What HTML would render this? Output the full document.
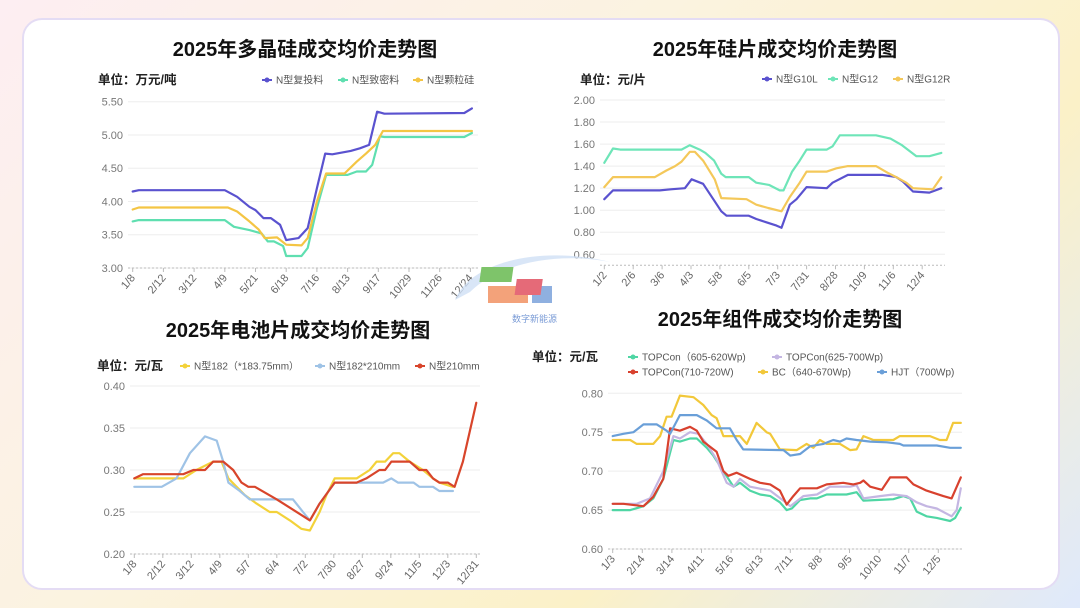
<!DOCTYPE html>
<html><head><meta charset="utf-8">
<style>
html,body{margin:0;padding:0;}
body{width:1080px;height:608px;overflow:hidden;position:relative;font-family:"Liberation Sans","Noto Sans CJK SC",sans-serif;
background:linear-gradient(135deg,#fdeef2 0%,#fbf3e0 40%,#fbf1c8 70%,#dfe9fb 100%);}
#card{position:absolute;left:22px;top:18px;width:1034px;height:568px;background:#fff;border:2px solid #e4dcf4;border-radius:20px;}
svg{position:absolute;left:0;top:0;}
</style></head><body>
<div id="card"></div>
<svg id="svg" width="1080" height="608"></svg>
<script>
// ---------- Chart 1: polysilicon ----------
const c1Ticks = ["1/8","2/12","3/12","4/9","5/21","6/18","7/16","8/13","9/17","10/29","11/26","12/24"];
const c1YTicks = [3.00,3.50,4.00,4.50,5.00,5.50];
const c1Names = ["N型复投料","N型致密料","N型颗粒硅"];
const c1Purple = [[0,4.15],[0.2,4.17],[3.0,4.17],[3.4,4.07],[3.8,3.92],[4.0,3.87],[4.26,3.75],[4.5,3.75],[4.8,3.65],[5.0,3.42],[5.4,3.45],[5.7,3.6],[6.0,4.2],[6.27,4.72],[6.5,4.71],[7.1,4.76],[7.4,4.8],[7.7,4.85],[7.96,5.35],[8.2,5.32],[10.8,5.33],[11.05,5.4]];
const c1Green = [[0,3.70],[0.2,3.72],[3.0,3.72],[3.3,3.62],[3.8,3.57],[4.2,3.52],[4.4,3.40],[4.6,3.40],[4.9,3.33],[5.0,3.18],[5.5,3.18],[5.7,3.3],[6.0,3.9],[6.3,4.40],[7.0,4.40],[7.3,4.45],[7.6,4.45],[7.8,4.55],[8.05,4.98],[8.2,4.97],[10.8,4.97],[11.05,5.03]];
const c1Yellow = [[0,3.88],[0.2,3.91],[3.1,3.91],[3.4,3.85],[3.8,3.70],[4.1,3.58],[4.3,3.45],[4.7,3.46],[5.0,3.35],[5.5,3.34],[5.7,3.45],[6.0,4.0],[6.3,4.42],[6.9,4.42],[7.3,4.60],[7.6,4.72],[7.9,4.85],[8.15,5.06],[11.05,5.06]];

// ---------- Chart 2: wafer ----------
const c2Ticks = ["1/2","2/6","3/6","4/3","5/8","6/5","7/3","7/31","8/28","10/9","11/6","12/4"];
const c2YTicks = [0.60,0.80,1.00,1.20,1.40,1.60,1.80,2.00];
const c2Names = ["N型G10L","N型G12","N型G12R"];
const c2Purple = [[0,1.10],[0.3,1.18],[1.92,1.18],[2.3,1.19],[2.79,1.20],[3.02,1.28],[3.42,1.24],[3.77,1.10],[4.05,0.99],[4.23,0.95],[5.0,0.95],[5.26,0.92],[5.61,0.89],[5.96,0.86],[6.13,0.84],[6.42,1.05],[6.65,1.10],[7.0,1.21],[7.7,1.20],[7.9,1.25],[8.43,1.32],[9.64,1.32],[10.1,1.30],[10.33,1.26],[10.68,1.17],[11.25,1.16],[11.66,1.20]];
const c2Green = [[0,1.43],[0.3,1.56],[0.55,1.55],[2.67,1.55],[2.96,1.59],[3.3,1.55],[3.5,1.52],[3.8,1.45],[4.05,1.33],[4.2,1.30],[5.0,1.30],[5.26,1.25],[5.7,1.23],[6.07,1.18],[6.2,1.18],[6.5,1.35],[6.76,1.45],[7.0,1.55],[7.7,1.55],[7.9,1.58],[8.15,1.68],[9.4,1.68],[9.9,1.65],[10.3,1.59],[10.8,1.49],[11.25,1.49],[11.66,1.52]];
const c2Yellow = [[0,1.21],[0.3,1.30],[1.75,1.30],[2.15,1.36],[2.45,1.40],[2.67,1.44],[2.96,1.53],[3.13,1.53],[3.42,1.45],[3.82,1.28],[4.05,1.11],[4.92,1.10],[5.26,1.05],[5.67,1.02],[6.13,0.99],[6.42,1.12],[6.76,1.25],[7.0,1.35],[7.7,1.35],[8.03,1.38],[8.43,1.40],[9.4,1.40],[9.8,1.34],[10.1,1.30],[10.45,1.25],[10.68,1.20],[11.37,1.19],[11.66,1.30]];

// ---------- Chart 3: cells ----------
const c3Ticks = ["1/8","2/12","3/12","4/9","5/7","6/4","7/2","7/30","8/27","9/24","11/5","12/3","12/31"];
const c3YTicks = [0.20,0.25,0.30,0.35,0.40];
const c3Names = ["N型182（*183.75mm）","N型182*210mm","N型210mm"];
const c3Yellow = [[0,0.29],[1.72,0.29],[2.18,0.30],[2.77,0.31],[3.06,0.31],[3.3,0.29],[3.59,0.28],[3.88,0.27],[4.29,0.26],[4.75,0.25],[5.0,0.25],[5.46,0.24],[5.86,0.23],[6.16,0.228],[6.5,0.25],[6.74,0.27],[7.03,0.29],[7.8,0.29],[8.26,0.30],[8.5,0.31],[8.8,0.31],[9.08,0.32],[9.3,0.32],[9.66,0.31],[10.13,0.30],[10.48,0.29],[10.7,0.285],[11.18,0.28]];
const c3Blue = [[0,0.28],[0.96,0.28],[1.48,0.29],[1.95,0.32],[2.48,0.34],[2.89,0.335],[3.12,0.31],[3.3,0.285],[3.7,0.275],[4.05,0.265],[5.57,0.265],[5.92,0.25],[6.16,0.24],[6.5,0.26],[7.03,0.285],[8.73,0.285],[9.02,0.29],[9.25,0.285],[9.8,0.285],[10.0,0.28],[10.48,0.28],[10.7,0.275],[11.18,0.275]];
const c3Red = [[0,0.29],[0.3,0.295],[1.72,0.295],[2.07,0.30],[2.48,0.30],[2.77,0.31],[3.12,0.31],[3.47,0.30],[3.76,0.285],[4.0,0.28],[4.23,0.28],[5.0,0.265],[6.16,0.24],[6.5,0.26],[7.03,0.285],[7.8,0.285],[8.14,0.29],[8.6,0.30],[8.8,0.30],[9.02,0.31],[9.66,0.31],[10.0,0.30],[10.25,0.30],[10.48,0.29],[10.7,0.285],[11.0,0.285],[11.24,0.28],[11.53,0.31],[12.0,0.38]];

// ---------- Chart 4: modules ----------
const c4Ticks = ["1/3","2/14","3/14","4/11","5/16","6/13","7/11","8/8","9/5","10/10","11/7","12/5"];
const c4YTicks = [0.60,0.65,0.70,0.75,0.80];
const c4Names = ["TOPCon（605-620Wp)","TOPCon(625-700Wp)","TOPCon(710-720W)","BC（640-670Wp)","HJT（700Wp)"];
const c4Green = [[0,0.65],[0.59,0.65],[1.04,0.655],[1.37,0.665],[1.71,0.69],[2.05,0.74],[2.27,0.738],[2.61,0.742],[2.84,0.742],[3.18,0.73],[3.4,0.72],[3.74,0.70],[4.08,0.68],[4.3,0.685],[4.64,0.675],[4.98,0.67],[5.32,0.668],[5.65,0.66],[5.88,0.65],[6.05,0.652],[6.33,0.663],[6.67,0.665],[6.9,0.665],[7.23,0.67],[7.9,0.67],[8.24,0.673],[8.47,0.662],[8.92,0.663],[9.48,0.664],[9.82,0.668],[10.05,0.665],[10.27,0.648],[10.6,0.642],[10.95,0.64],[11.4,0.636],[11.57,0.64],[11.76,0.653]];
const c4Purple = [[0,0.658],[0.81,0.658],[1.26,0.665],[1.71,0.70],[2.05,0.745],[2.27,0.742],[2.61,0.75],[2.9,0.748],[3.18,0.735],[3.51,0.715],[3.85,0.685],[4.08,0.68],[4.3,0.69],[4.64,0.68],[5.32,0.675],[5.77,0.662],[6.0,0.655],[6.44,0.668],[6.9,0.67],[7.34,0.68],[8.02,0.68],[8.24,0.682],[8.47,0.665],[9.03,0.668],[9.48,0.67],[9.93,0.668],[10.27,0.66],[10.6,0.655],[10.95,0.652],[11.45,0.642],[11.62,0.65],[11.76,0.678]];
const c4Red = [[0,0.658],[0.36,0.658],[1.04,0.655],[1.37,0.667],[1.71,0.69],[1.94,0.755],[2.27,0.752],[2.61,0.757],[2.84,0.752],[3.06,0.738],[3.51,0.725],[3.74,0.70],[3.91,0.694],[4.19,0.698],[4.64,0.69],[4.98,0.685],[5.32,0.683],[5.65,0.675],[5.88,0.657],[6.1,0.668],[6.33,0.678],[6.9,0.678],[7.23,0.683],[7.79,0.685],[8.13,0.683],[8.36,0.685],[8.47,0.688],[8.7,0.68],[9.09,0.676],[9.37,0.692],[9.93,0.692],[10.16,0.683],[10.6,0.675],[11.17,0.668],[11.45,0.665],[11.76,0.692]];
const c4Yellow = [[0,0.74],[0.59,0.74],[0.81,0.735],[1.37,0.735],[1.6,0.745],[1.82,0.77],[1.99,0.77],[2.27,0.797],[2.73,0.795],[3.06,0.785],[3.34,0.772],[3.51,0.768],[3.74,0.745],[3.96,0.745],[4.3,0.745],[4.53,0.735],[4.86,0.762],[5.2,0.75],[5.32,0.748],[5.65,0.728],[6.22,0.727],[6.55,0.735],[6.78,0.73],[7.0,0.74],[7.23,0.735],[7.68,0.735],[8.02,0.727],[8.24,0.728],[8.47,0.745],[8.81,0.74],[9.48,0.74],[9.7,0.745],[10.72,0.745],[11.05,0.74],[11.28,0.74],[11.5,0.762],[11.76,0.762]];
const c4Blue = [[0,0.745],[0.36,0.748],[0.7,0.75],[1.04,0.76],[1.49,0.76],[1.82,0.752],[1.94,0.748],[2.27,0.772],[2.84,0.772],[3.18,0.765],[3.51,0.755],[3.96,0.755],[4.19,0.74],[4.41,0.728],[5.77,0.727],[6.0,0.72],[6.33,0.722],[6.67,0.732],[7.12,0.735],[7.45,0.74],[7.68,0.738],[7.9,0.742],[8.24,0.74],[8.7,0.738],[9.26,0.737],[9.7,0.735],[9.82,0.733],[10.95,0.733],[11.4,0.73],[11.76,0.73]];

const NS = "http://www.w3.org/2000/svg";
const svg = document.getElementById('svg');
function mk(tag, attrs, parent){
  const e = document.createElementNS(NS, tag);
  for (const k in attrs) e.setAttribute(k, attrs[k]);
  (parent||svg).appendChild(e);
  return e;
}
function txt(str, attrs, parent){ const t = mk('text', attrs, parent); t.textContent = str; return t; }

function drawChart(cfg){
  const g = mk('g', {});
  
  
  const xOf = u => cfg.x0 + u*cfg.dx;
  const yOf = v => cfg.yBot - (v - cfg.yMin)/(cfg.yMax - cfg.yMin)*(cfg.yBot - cfg.yTop);
  const title = txt(cfg.title, {x:cfg.titleX, y:cfg.titleY, 'text-anchor':'middle', 'font-size':20, 'font-weight':'bold', fill:'#111'}, g);
  
  
  // y ticks & grid
  cfg.yTicks.forEach(v => {
    const y = yOf(v);
    const gl = mk('line', {x1:cfg.gridL, x2:cfg.gridR, y1:y, y2:y, stroke:'#eeeeee', 'stroke-width':1}, g);
    
    
    const t = txt(v.toFixed(2), {x:cfg.gridL-5, y:y+4, 'text-anchor':'end', 'font-size':11, fill:'#777'}, g);
    
    
  });
  // x axis
  const ab = yOf(cfg.yMin);
  const ax = mk('line', {x1:cfg.gridL, x2:cfg.gridR, y1:ab, y2:ab, stroke:'#bbb', 'stroke-width':1, 'stroke-dasharray':'2,2'}, g);
  
  
  cfg.xTicks.forEach((lab, i) => {
    const x = xOf(i);
    mk('line', {x1:x, x2:x, y1:ab, y2:ab+4, stroke:'#bbb'}, g);
    const t = txt(lab, {x:x+3, y:ab+10, 'text-anchor':'end', 'font-size':11, fill:'#666', transform:`rotate(-50 ${x+3} ${ab+10})`}, g);
    
    
  });
  // unit
  const un = txt(cfg.unit, {x:cfg.unitX, y:cfg.unitY, 'font-size':12.5, 'font-weight':'bold', fill:'#222'}, g);
  
  
  // series
  cfg.series.forEach((s, i) => {
    const d = s.data.map((p, j) => (j ? 'L' : 'M') + xOf(p[0]).toFixed(1) + ',' + yOf(p[1]).toFixed(1)).join(' ');
    const path = mk('path', {d:d, fill:'none', stroke:s.color, 'stroke-width':2.2, 'stroke-linejoin':'round', 'stroke-linecap':'round'}, g);
    
    
    const lg = mk('g', {}, g);
    
    
    mk('line', {x1:s.lx-5, x2:s.lx+5, y1:s.ly, y2:s.ly, stroke:s.color, 'stroke-width':2}, lg);
    mk('circle', {cx:s.lx, cy:s.ly, r:2.5, fill:s.color}, lg);
    txt(s.label, {x:s.lx+9, y:s.ly+3.5, 'font-size':10, fill:'#555'}, lg);
  });
}

drawChart({name:'polysilicon-chart', title:'2025年多晶硅成交均价走势图', titleX:305, titleY:56,
  unit:'单位：万元/吨', unitX:98, unitY:84,
  x0:132.7, dx:30.7, yMin:3.0, yMax:5.5, yTop:101.7, yBot:268, gridL:128, gridR:478,
  xTicks:c1Ticks, yTicks:c1YTicks,
  series:[{data:c1Purple,color:'#5a52cf',label:c1Names[0],lx:267,ly:80},
          {data:c1Green,color:'#5fdfb0',label:c1Names[1],lx:343,ly:80},
          {data:c1Yellow,color:'#f4c544',label:c1Names[2],lx:418,ly:80}]});

drawChart({name:'wafer-chart', title:'2025年硅片成交均价走势图', titleX:775, titleY:56,
  unit:'单位：元/片', unitX:580, unitY:84,
  x0:604.3, dx:28.9, yMin:0.5, yMax:2.0, yTop:100, yBot:265.3, gridL:600, gridR:945,
  xTicks:c2Ticks, yTicks:c2YTicks,
  series:[{data:c2Purple,color:'#5a52cf',label:c2Names[0],lx:767,ly:79},
          {data:c2Green,color:'#6ee5b8',label:c2Names[1],lx:833,ly:79},
          {data:c2Yellow,color:'#f4c85a',label:c2Names[2],lx:898,ly:79}]});

drawChart({name:'cell-chart', title:'2025年电池片成交均价走势图', titleX:298, titleY:337,
  unit:'单位：元/瓦', unitX:97, unitY:370,
  x0:134.3, dx:28.5, yMin:0.2, yMax:0.4, yTop:386, yBot:554, gridL:130, gridR:480,
  xTicks:c3Ticks, yTicks:c3YTicks,
  series:[{data:c3Yellow,color:'#f3d23a',label:c3Names[0],lx:185,ly:366},
          {data:c3Blue,color:'#9fc3e6',label:c3Names[1],lx:320,ly:366},
          {data:c3Red,color:'#d8452b',label:c3Names[2],lx:420,ly:366}]});

drawChart({name:'module-chart', title:'2025年组件成交均价走势图', titleX:780, titleY:326,
  unit:'单位：元/瓦', unitX:532, unitY:361,
  x0:612.7, dx:29.6, yMin:0.6, yMax:0.8, yTop:393.3, yBot:549, gridL:608, gridR:962,
  xTicks:c4Ticks, yTicks:c4YTicks,
  series:[{data:c4Green,color:'#4fd6a4',label:c4Names[0],lx:633,ly:357},
          {data:c4Purple,color:'#c4b6e2',label:c4Names[1],lx:777,ly:357},
          {data:c4Red,color:'#d8412e',label:c4Names[2],lx:633,ly:372},
          {data:c4Yellow,color:'#f2c83a',label:c4Names[3],lx:763,ly:372},
          {data:c4Blue,color:'#6a9fd8',label:c4Names[4],lx:882,ly:372}]});

// center logo
const logo = mk('g', {});


mk('path', {d:'M455,300 C470,262 540,245 610,262 C560,252 500,262 470,292 Z', fill:'#cfe0f5', opacity:0.8}, logo);
mk('rect', {x:519, y:267, width:32, height:15, fill:'#7ec46a', transform:'skewX(-8)'}, logo);
mk('rect', {x:488, y:286, width:40, height:17, fill:'#f3a27a'}, logo);
mk('rect', {x:532, y:286, width:20, height:17, fill:'#8fb0e0'}, logo);
mk('rect', {x:556, y:279, width:26, height:16, fill:'#e56a78', transform:'skewX(-8)'}, logo);
txt('数字新能源', {x:512, y:322, 'font-size':9, fill:'#7a9bd6'}, logo);
</script>
</body></html>
